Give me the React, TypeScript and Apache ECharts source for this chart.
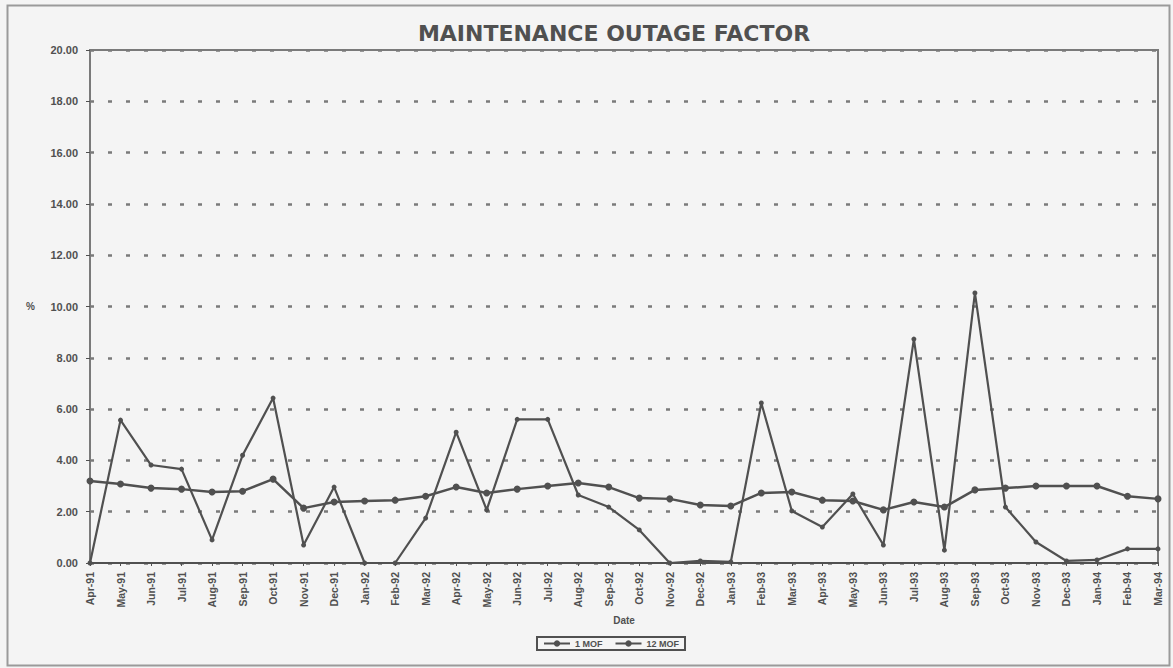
import React, { useEffect, useRef } from "react";
import * as echarts from "echarts";

const months: string[] = [
  "Apr-91", "May-91", "Jun-91", "Jul-91", "Aug-91", "Sep-91", "Oct-91", "Nov-91", "Dec-91",
  "Jan-92", "Feb-92", "Mar-92", "Apr-92", "May-92", "Jun-92", "Jul-92", "Aug-92", "Sep-92",
  "Oct-92", "Nov-92", "Dec-92", "Jan-93", "Feb-93", "Mar-93", "Apr-93", "May-93", "Jun-93",
  "Jul-93", "Aug-93", "Sep-93", "Oct-93", "Nov-93", "Dec-93", "Jan-94", "Feb-94", "Mar-94",
];

const monthlyMof: number[] = [
  0.0, 5.57, 3.82, 3.66, 0.9, 4.2, 6.43, 0.7, 2.96,
  0.0, 0.0, 1.75, 5.1, 2.07, 5.6, 5.6, 2.65, 2.18,
  1.29, 0.0, 0.08, 0.04, 6.24, 2.03, 1.4, 2.69, 0.7,
  8.73, 0.5, 10.53, 2.18, 0.82, 0.08, 0.12, 0.55, 0.55,
];

const rollingMof: number[] = [
  3.2, 3.08, 2.92, 2.88, 2.77, 2.8, 3.27, 2.14, 2.38,
  2.42, 2.45, 2.6, 2.96, 2.73, 2.88, 3.0, 3.12, 2.96,
  2.53, 2.5, 2.26, 2.22, 2.73, 2.77, 2.45, 2.42, 2.07,
  2.38, 2.18, 2.85, 2.92, 3.0, 3.0, 3.0, 2.6, 2.5,
];

const seriesNames: string[] = ["1 MOF", "12 MOF"];

const INK = "#505050";

export default function App() {
  const ref = useRef<HTMLDivElement>(null);

  useEffect(() => {
    if (!ref.current) return;
    const chart = echarts.init(ref.current, null, { renderer: "svg" });
    chart.setOption({
      animation: false,
      backgroundColor: "#f4f4f4",
      textStyle: { fontFamily: "Liberation Sans, Arial, sans-serif", color: INK },
      title: {
        text: "MAINTENANCE OUTAGE FACTOR",
        left: 609,
        textAlign: "center",
        top: 17,
        textStyle: { fontSize: 22, fontWeight: 900, color: INK, fontFamily: "DejaVu Sans, sans-serif" },
      },
      grid: {
        left: 90,
        right: 15,
        top: 50,
        bottom: 105,
        show: true,
        borderColor: "#7a7a7a",
        borderWidth: 2,
        backgroundColor: "transparent",
      },
      legend: {
        data: seriesNames,
        left: 537,
        bottom: 18,
        itemWidth: 26,
        itemHeight: 8,
        itemGap: 12,
        padding: [2, 6],
        borderColor: INK,
        borderWidth: 2,
        backgroundColor: "#f4f4f4",
        textStyle: { fontSize: 9, fontWeight: "bold", color: INK },
      },
      xAxis: {
        type: "category",
        data: months,
        boundaryGap: false,
        name: "Date",
        nameLocation: "middle",
        nameGap: 52,
        nameTextStyle: { fontSize: 10, fontWeight: "bold", color: INK },
        axisLine: { lineStyle: { color: INK, width: 2 } },
        axisTick: { show: true, length: 3, lineStyle: { color: INK } },
        axisLabel: { rotate: 90, fontSize: 10.5, fontWeight: "bold", color: INK, margin: 9, interval: 0 },
      },
      yAxis: {
        type: "value",
        min: 0,
        max: 20,
        interval: 2,
        name: "%",
        nameLocation: "middle",
        nameGap: 55,
        nameRotate: 0,
        nameTextStyle: { fontSize: 10, fontWeight: "bold", color: INK },
        axisLine: { show: true, lineStyle: { color: "#7a7a7a", width: 2 } },
        axisTick: { show: true, length: 4, lineStyle: { color: INK } },
        axisLabel: {
          fontSize: 11,
          fontWeight: "bold",
          color: INK,
          margin: 12,
          formatter: (v: number) => v.toFixed(2),
        },
        splitLine: {
          show: true,
          lineStyle: { color: "#7a7a7a", type: [4, 14], width: 2.5 },
        },
      },
      series: [
        {
          name: seriesNames[0],
          type: "line",
          data: monthlyMof,
          symbol: "circle",
          symbolSize: 5,
          lineStyle: { color: INK, width: 2.2 },
          itemStyle: { color: INK },
        },
        {
          name: seriesNames[1],
          type: "line",
          data: rollingMof,
          symbol: "circle",
          symbolSize: 7,
          lineStyle: { color: INK, width: 2.5 },
          itemStyle: { color: INK },
        },
      ],
      graphic: [
        {
          type: "rect",
          left: 5,
          top: 3,
          shape: { width: 1162, height: 660 },
          style: { fill: "none", stroke: "#9a9a9a", lineWidth: 2 },
          silent: true,
        },
      ],
    });
    return () => chart.dispose();
  }, []);

  return (
    <div
      ref={ref}
      style={{ position: "absolute", left: 0, top: 0, width: 1173, height: 668 }}
    />
  );
}
